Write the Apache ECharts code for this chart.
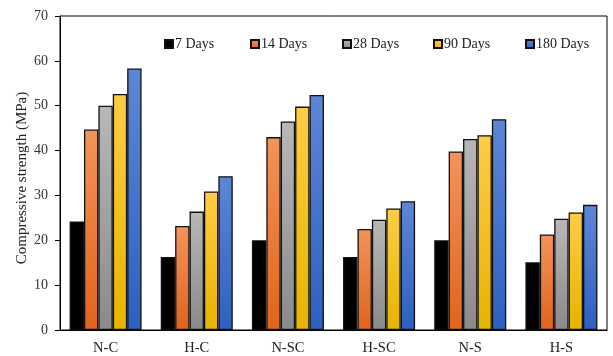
<!DOCTYPE html>
<html><head><meta charset="utf-8">
<script src="https://cdn.jsdelivr.net/npm/echarts@6/dist/echarts.min.js"></script>
<style>html,body{margin:0;padding:0;background:#fff}#c{width:613px;height:356px}</style>
</head><body><div id="c"></div>
<script>
const categories = ['N-C','H-C','N-SC','H-SC','N-S','H-S'];
const seriesNames = ['7 Days','14 Days','28 Days','90 Days','180 Days'];
const d7   = [24.2, 16.3, 20.0, 16.3, 20.0, 15.1];
const d14  = [44.7, 23.2, 43.0, 22.5, 39.8, 21.3];
const d28  = [50.0, 26.4, 46.5, 24.6, 42.6, 24.8];
const d90  = [52.6, 30.9, 49.8, 27.1, 43.4, 26.2];
const d180 = [58.3, 34.3, 52.4, 28.7, 47.0, 27.9];
const yTicks = [0,10,20,30,40,50,60,70];
const yTitle = 'Compressive strength (MPa)';

const values = [d7,d14,d28,d90,d180];
const grads = [
  ['#000000','#000000'],
  ['#f3935a','#e0641c'],
  ['#b8b8b8','#8a8a8a'],
  ['#ffcc45','#e6b400'],
  ['#5e86d6','#2c60c0']
];
const legendLeft = [159, 245, 337, 428, 520];
const font = 'Liberation Serif, Times New Roman, serif';

const chart = echarts.init(document.getElementById('c'));
chart.setOption({
  animation: false,
  textStyle: {fontFamily: font},
  grid: {left: 60, top: 16, right: 6, bottom: 24, show: true, borderColor: '#000', borderWidth: 1, backgroundColor: 'transparent'},
  graphic: [{
    type: 'text', x: 22, y: 178, rotation: Math.PI/2,
    style: {text: yTitle, font: '15px ' + font, fill: '#222', align: 'center', verticalAlign: 'middle'}
  }],
  legend: seriesNames.map((n,i)=>({
    data: [n], left: legendLeft[i], top: 32, itemWidth: 8, itemHeight: 8, itemGap: 0,
    icon: 'rect', textStyle: {fontFamily: font, fontSize: 14, color: '#222', padding: [0,0,0,-3]},
    selectedMode: false
  })),
  xAxis: {
    type: 'category', data: categories,
    axisLine: {lineStyle: {color: '#000', width: 1}},
    axisTick: {show: false},
    axisLabel: {fontFamily: font, fontSize: 14.5, color: '#222', margin: 11}
  },
  yAxis: {
    type: 'value', min: yTicks[0], max: yTicks[yTicks.length-1], interval: 10,
    axisLine: {show: true, lineStyle: {color: '#000', width: 1}},
    axisTick: {show: true, length: 5, lineStyle: {color: '#000'}},
    splitLine: {show: false},
    axisLabel: {fontFamily: font, fontSize: 14, color: '#333', margin: 12}
  },
  series: seriesNames.map((n,i)=>({
    name: n, type: 'bar', data: values[i],
    barGap: '0%', barCategoryGap: '21%',
    itemStyle: {
      color: new echarts.graphic.LinearGradient(0,0,0,1,[{offset:0,color:grads[i][0]},{offset:1,color:grads[i][1]}]),
      borderColor: '#111', borderWidth: 1.3
    }
  }))
});
</script></body></html>
